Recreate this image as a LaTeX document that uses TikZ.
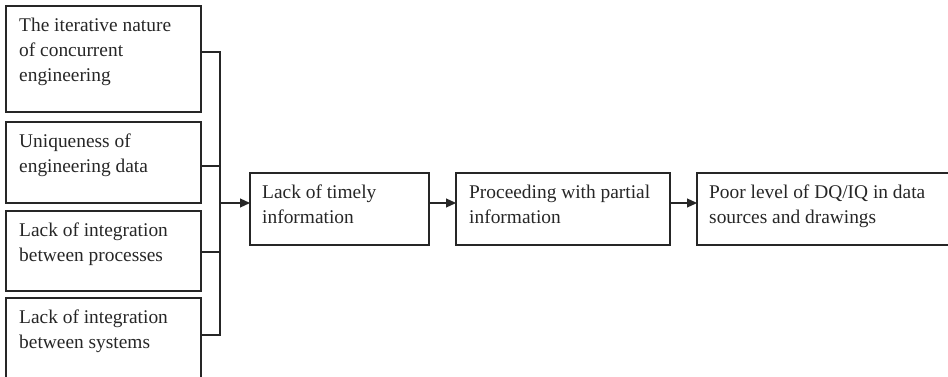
\documentclass[tikz,border=0pt]{standalone}
\usepackage{fontspec}
\setmainfont{Liberation Serif}
\usetikzlibrary{arrows.meta}
\newcommand\firstline{\rule{0pt}{15pt}}
\begin{document}
\begin{tikzpicture}[x=1pt,y=-1pt,
  frame/.style={draw=black!85, line width=1.1pt, inner sep=0pt, outer sep=0pt, anchor=north west},
  txt/.style={anchor=north west, inner sep=0pt, align=left,
    font=\fontsize{19.4}{25}\selectfont, text=black!85},
  link/.style={draw=black!85, line width=1.1pt},
  arr/.style={link, -{Triangle[length=10pt,width=9pt]}}]
\clip (0,0) rectangle (948,377);

% causes stacked on the left
\node[frame, minimum width=195pt, minimum height=106pt] (b1) at (6,6) {};
\node[frame, minimum width=195pt, minimum height=81pt] (b2) at (6,122) {};
\node[frame, minimum width=195pt, minimum height=80pt] (b3) at (6,211) {};
\node[frame, minimum width=195pt, minimum height=110pt] (b4) at (6,298) {};

\node[txt] (t1) at ([shift={(13,10)}]b1.north west) {\firstline The iterative nature\\of concurrent\\engineering};
\node[txt] (t2) at ([shift={(13,10)}]b2.north west) {\firstline Uniqueness of\\engineering data};
\node[txt] (t3) at ([shift={(13,10)}]b3.north west) {\firstline Lack of integration\\between processes};
\node[txt] (t4) at ([shift={(13,10)}]b4.north west) {\firstline Lack of integration\\between systems};

% chain of consequences
\node[frame, minimum width=179pt, minimum height=72pt] (b5) at (250,173) {};
\node[frame, minimum width=214pt, minimum height=72pt] (b6) at (456,173) {};
\node[frame, minimum width=262pt, minimum height=72pt] (b7) at (697,173) {};

\node[txt] (t5) at ([shift={(12,10)}]b5.north west) {\firstline Lack of timely\\information};
\node[txt] (t6) at ([shift={(13,10)}]b6.north west) {\firstline Proceeding with partial\\information};
\node[txt] (t7) at ([shift={(12,10)}]b7.north west) {\firstline Poor level of DQ/IQ in data\\sources and drawings};

% collecting bracket
\coordinate (j1) at (220,52);
\coordinate (j2) at (220,166);
\coordinate (j3) at (220,252);
\coordinate (j4) at (220,335);
\coordinate (m) at (220,203);
\draw[link] (b1.east |- j1) -- (j1) -- (j4) -- (b4.east |- j4);
\draw[link] (b2.east |- j2) -- (j2);
\draw[link] (b3.east |- j3) -- (j3);

% arrows
\draw[arr] (m) -- (b5.west |- m);
\draw[arr] (b5.east |- m) -- (b6.west |- m);
\draw[arr] (b6.east |- m) -- (b7.west |- m);
\end{tikzpicture}
\end{document}
